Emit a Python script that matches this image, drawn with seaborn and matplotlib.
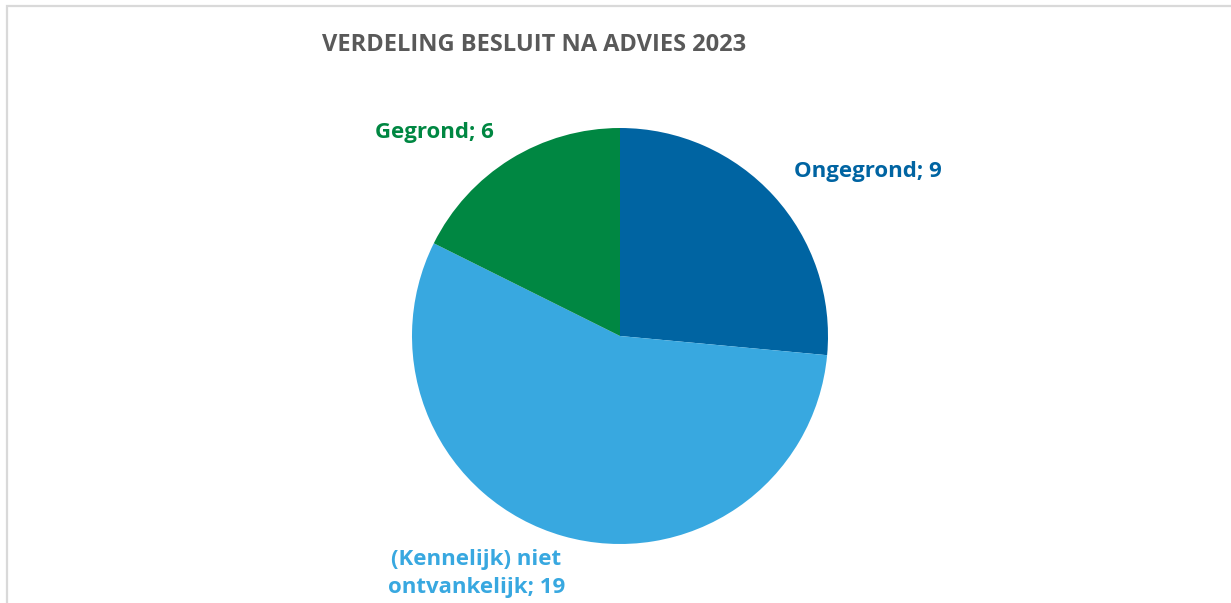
import matplotlib
matplotlib.use("Agg")
import matplotlib.pyplot as plt
import seaborn as sns
from matplotlib.patches import Rectangle

# data
categories = ["Ongegrond", "(Kennelijk) niet\nontvankelijk", "Gegrond"]
counts = [9, 19, 6]
title = "VERDELING BESLUIT NA ADVIES 2023"

sns.set_theme(style="white")
plt.rcParams["font.family"] = ["Open Sans", "DejaVu Sans"]

colors = ["#0064A2", "#38A8E0", "#008742"]

W, H = 1231, 603
fig = plt.figure(figsize=(W / 100, H / 100), dpi=100)

# chart frame (Excel style)
fig.patches.append(Rectangle((7 / W, -0.1), 1.2, 1 - 6 / H + 0.1, transform=fig.transFigure,
                             fill=False, edgecolor="#D9D9D9", linewidth=1.6))

# pie axes: centre (620, 336), radius 208 px
cx, cy, r = 620, 336, 208
ax = fig.add_axes([(cx - r) / W, (H - cy - r) / H, 2 * r / W, 2 * r / H])
ax.pie(counts, colors=colors, startangle=90, counterclock=False, radius=1,
       wedgeprops=dict(linewidth=0))
ax.set_xlim(-1, 1)
ax.set_ylim(-1, 1)
ax.set_aspect("equal")
ax.axis("off")

# label placement in pie units (layout only)
label_pos = [(1.19, 0.79), (-0.69, -1.14), (-0.89, 0.98)]
for name, n, col, (lx, ly) in zip(categories, counts, colors, label_pos):
    ax.text(lx, ly, f"{name}; {n}", color=col, fontsize=16, fontweight="bold",
            ha="center", va="center", linespacing=1.45, clip_on=False)

fig.text(534 / W, 1 - 45 / H, title, color="#595959", fontsize=17, fontweight="bold",
         ha="center", va="center")

fig.savefig("out.png", dpi=100)
